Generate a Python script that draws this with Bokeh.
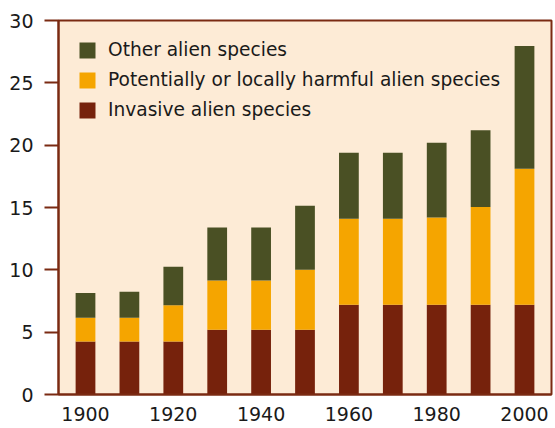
from bokeh.plotting import figure
from bokeh.models import ColumnDataSource, Legend, LegendItem, FixedTicker
from bokeh.embed import file_html
from bokeh.resources import INLINE

years = [1900, 1910, 1920, 1930, 1940, 1950, 1960, 1970, 1980, 1990, 2000]
invasive = [4.25, 4.25, 4.25, 5.2, 5.2, 5.2, 7.2, 7.2, 7.2, 7.2, 7.2]
potentially = [1.9, 1.9, 2.9, 3.95, 3.95, 4.8, 6.9, 6.9, 7.0, 7.85, 10.9]
other = [2.0, 2.1, 3.1, 4.25, 4.25, 5.15, 5.3, 5.3, 6.0, 6.15, 9.85]
series = ["invasive", "potentially", "other"]
labels = ["Invasive alien species", "Potentially or locally harmful alien species", "Other alien species"]
colors = ["#76220c", "#f5a500", "#4a5024"]
y_ticks = [0, 5, 10, 15, 20, 25, 30]
x_ticks = [1900, 1920, 1940, 1960, 1980, 2000]

src = ColumnDataSource(dict(year=years, invasive=invasive, potentially=potentially, other=other))

FONT = "DejaVu Sans"
BROWN = "#7a2a12"

p = figure(frame_width=493, frame_height=374, x_range=(1893.85, 2006.15), y_range=(0, 30),
           output_backend="svg", toolbar_location=None,
           min_border_left=58, min_border_right=2, min_border_top=20, min_border_bottom=30,
           background_fill_color="#fdebd6", border_fill_color="white")

renderers = p.vbar_stack(series, x="year", width=4.5, color=colors, source=src, line_width=0)

items = [LegendItem(label=labels[i], renderers=[renderers[i]]) for i in (2, 1, 0)]
legend = Legend(items=items, location="top_left", background_fill_alpha=0, border_line_alpha=0,
                label_text_font=FONT, label_text_font_size="18.6px", label_text_color="#1a1a1a",
                glyph_width=20, glyph_height=20, label_standoff=11, spacing=9,
                margin=19, padding=0, label_height=20)
p.add_layout(legend)

p.outline_line_color = BROWN
p.outline_line_width = 2
p.grid.visible = False

p.yaxis.ticker = FixedTicker(ticks=y_ticks)
p.xaxis.ticker = FixedTicker(ticks=x_ticks)
for ax in (p.xaxis, p.yaxis):
    ax.major_label_text_font = FONT
    ax.major_label_text_font_size = "19px"
    ax.major_label_text_color = "#1a1a1a"
    ax.axis_line_color = BROWN
    ax.axis_line_width = 2
    ax.major_tick_line_color = BROWN
    ax.major_tick_line_width = 2
    ax.minor_tick_line_color = None
    ax.major_tick_in = 0

p.yaxis.major_tick_out = 14
p.yaxis.major_label_standoff = 11
p.xaxis.major_tick_out = 0
p.xaxis.major_label_standoff = 12

open("out.html", "w").write(file_html(p, INLINE))
